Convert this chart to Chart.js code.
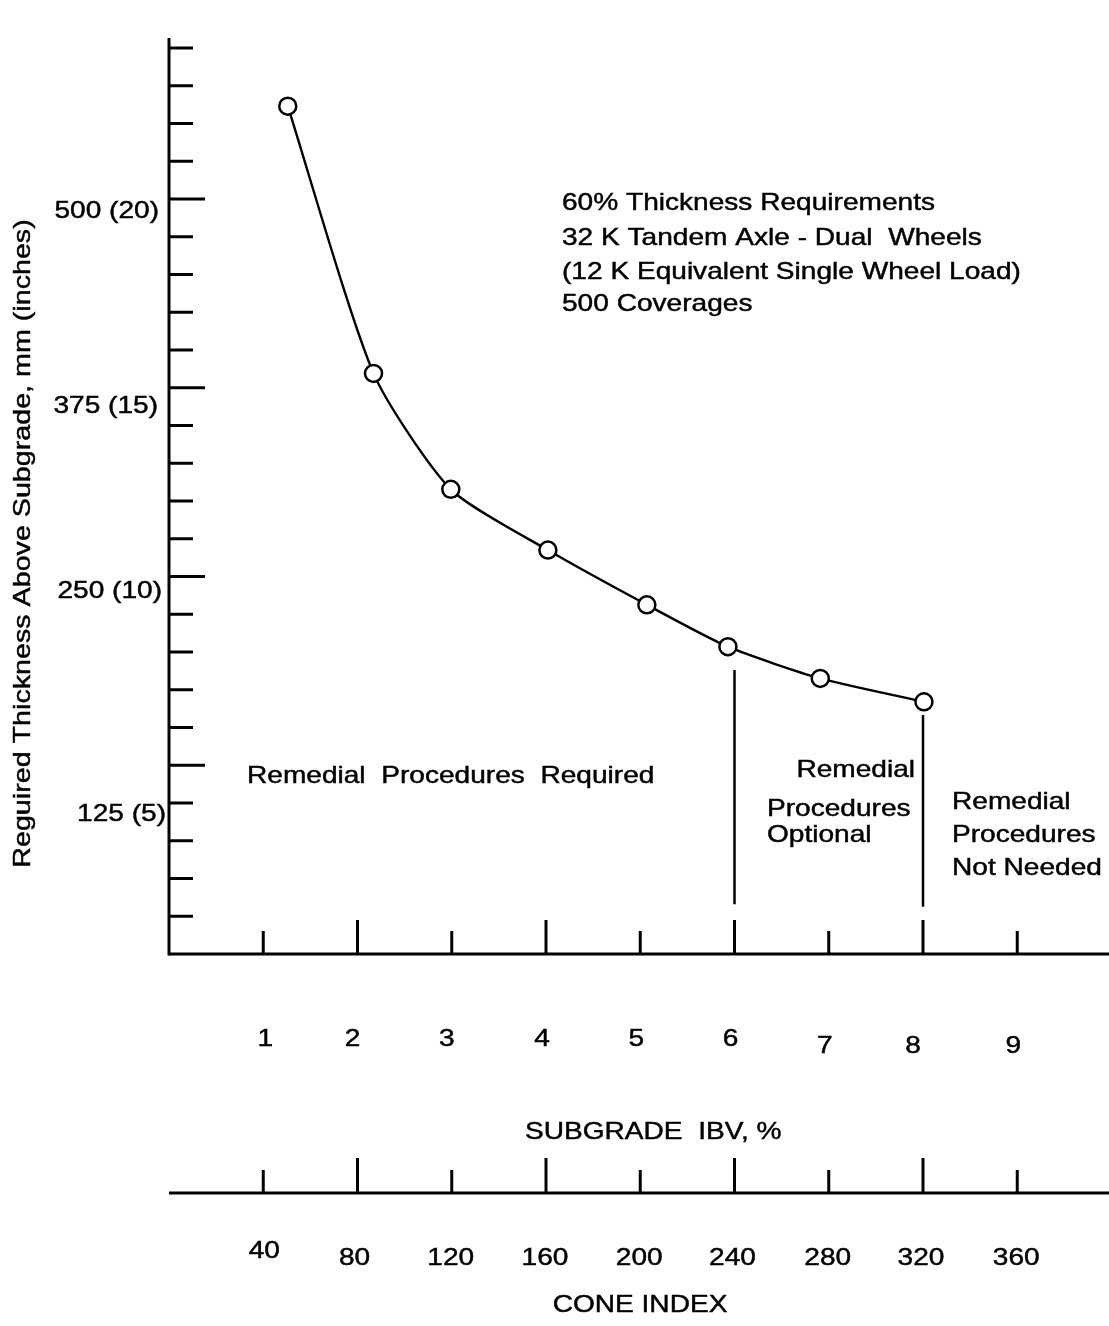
<!DOCTYPE html>
<html>
<head>
<meta charset="utf-8">
<script src="https://cdn.jsdelivr.net/npm/chart.js@4/dist/chart.umd.min.js"></script>
<style>
  html, body { margin: 0; padding: 0; background: #fff; }
  #wrap { width: 1109px; height: 1326px; }
</style>
</head>
<body>
<div id="wrap"><canvas id="c" width="1109" height="1326"></canvas></div>
<script>
// ---------- data ----------
const ibvValues = [1.26, 2.17, 2.99, 4.02, 5.07, 5.93, 6.91, 8.01];       // subgrade IBV, %
const thicknessIn = [22.46, 15.38, 12.31, 10.70, 9.25, 8.14, 7.30, 6.68];  // required thickness, inches
const ibvTicks = [1, 2, 3, 4, 5, 6, 7, 8, 9];
const ibvTickLabels = ['1', '2', '3', '4', '5', '6', '7', '8', '9'];
const coneTicks = [40, 80, 120, 160, 200, 240, 280, 320, 360];
const coneTickLabels = ['40', '80', '120', '160', '200', '240', '280', '320', '360'];
const thicknessTicks = [1,2,3,4,5,6,7,8,9,10,11,12,13,14,15,16,17,18,19,20,21,22,23,24];
const thicknessLabelValues = [20, 15, 10, 5];
const thicknessLabels = ['500 (20)', '375 (15)', '250 (10)', '125 (5)'];
const dividerIbv = [6, 8];
const dividerTop = [7.52, 6.33];
const dividerBottom = [1.32, 1.25];
const coneToIbv = 40; // cone index = 40 x IBV on this chart
const notes = ['60% Thickness Requirements', '32 K Tandem Axle - Dual  Wheels',
               '(12 K Equivalent Single Wheel Load)', '500 Coverages'];
const zoneRequired = ['Remedial  Procedures  Required'];
const zoneOptional = ['Remedial', 'Procedures', 'Optional'];
const zoneNotNeeded = ['Remedial', 'Procedures', 'Not Needed'];
const yTitle = 'Reguired Thickness Above Subgrade, mm (inches)';
const xTitle = 'SUBGRADE  IBV, %';
const coneTitle = 'CONE INDEX';

// ---------- drawing ----------
const FONT = '24px "Liberation Sans", Arial, sans-serif';
const SX = 1.17;
function txt(ctx, s, x, y, align) {
  ctx.save();
  ctx.translate(x, y);
  ctx.scale(SX, 1);
  ctx.font = FONT;
  ctx.fillStyle = '#000';
  ctx.strokeStyle = '#000';
  ctx.lineWidth = 0.45;
  ctx.textAlign = align || 'left';
  ctx.textBaseline = 'alphabetic';
  ctx.fillText(s, 0, 0);
  ctx.strokeText(s, 0, 0);
  ctx.restore();
}
function seg(ctx, x1, y1, x2, y2, w) {
  ctx.beginPath();
  ctx.lineWidth = w || 3;
  ctx.strokeStyle = '#000';
  ctx.moveTo(x1, y1); ctx.lineTo(x2, y2); ctx.stroke();
}

const curve = ibvValues.map((v, i) => ({ x: v, y: thicknessIn[i] }));
const dividers = dividerIbv.map((v, i) => ({
  data: [{ x: v, y: dividerTop[i] }, { x: v, y: dividerBottom[i] }],
  showLine: true, borderColor: '#000', borderWidth: 2.5, pointRadius: 0, order: 2
}));

const ylabDy = [19, 25, 21, 56];
const ylabRight = [159, 158, 162, 166];
const ibvDx = [2, -5, -5, -4, -4, -4, -4, -10, -4];
const ibvBase = [1046, 1046, 1046, 1046, 1046, 1046, 1053, 1053, 1053];
const coneDx = [1, -3, -1, -1, -1, -2, -1, -2, -1];
const coneBase = [1258, 1265, 1265, 1265, 1265, 1265, 1265, 1265, 1265];

const axesPlugin = {
  id: 'axesPlugin',
  beforeDraw(chart) {
    const ctx = chart.ctx;
    ctx.save();
    ctx.fillStyle = '#fff';
    ctx.fillRect(0, 0, chart.width, chart.height);
    ctx.restore();
  },
  afterDraw(chart) {
    const ctx = chart.ctx;
    const xs = chart.scales.x, ys = chart.scales.y, cs = chart.scales.x2;
    const a = chart.chartArea;
    ctx.save();
    ctx.lineCap = 'butt';
    // main axes
    seg(ctx, a.left, a.top, a.left, a.bottom + 1.5, 3);
    seg(ctx, a.left, a.bottom, a.right, a.bottom, 3);
    // thickness ticks
    thicknessTicks.forEach(v => {
      const y = ys.getPixelForValue(v);
      seg(ctx, a.left, y, a.left + (v % 5 === 0 ? 36 : 24), y, 3);
    });
    thicknessLabels.forEach((s, i) => {
      txt(ctx, s, ylabRight[i], ys.getPixelForValue(thicknessLabelValues[i]) + ylabDy[i], 'right');
    });
    // IBV ticks
    ibvTicks.forEach((v, i) => {
      const x = xs.getPixelForValue(v);
      seg(ctx, x, a.bottom, x, a.bottom - (v % 2 === 0 ? 34 : 23), 3);
      txt(ctx, ibvTickLabels[i], x + ibvDx[i], ibvBase[i], 'center');
    });
    txt(ctx, xTitle, 525, 1139, 'left');
    // cone index axis
    const cy = 1193;
    seg(ctx, a.left, cy, a.right, cy, 3);
    coneTicks.forEach((v, i) => {
      const x = cs.getPixelForValue(v);
      seg(ctx, x, cy, x, cy - ((v / coneToIbv) % 2 === 0 ? 35 : 23), 3);
      txt(ctx, coneTickLabels[i], x + coneDx[i], coneBase[i], 'center');
    });
    txt(ctx, coneTitle, 640, 1312, 'center');
    // y title
    ctx.save();
    ctx.translate(29.5, 543.5);
    ctx.rotate(-Math.PI / 2);
    ctx.scale(SX, 1);
    ctx.font = '24.5px "Liberation Sans", Arial, sans-serif';
    ctx.fillStyle = '#000';
    ctx.strokeStyle = '#000';
    ctx.lineWidth = 0.45;
    ctx.textAlign = 'center';
    ctx.fillText(yTitle, 0, 0);
    ctx.strokeText(yTitle, 0, 0);
    ctx.restore();
    // notes
    const nb = [210, 244.5, 278.5, 311];
    notes.forEach((s, i) => txt(ctx, s, 562, nb[i], 'left'));
    txt(ctx, zoneRequired[0], 247, 783, 'left');
    txt(ctx, zoneOptional[0], 915, 777, 'right');
    txt(ctx, zoneOptional[1], 767, 816, 'left');
    txt(ctx, zoneOptional[2], 767, 842, 'left');
    [809, 842, 875].forEach((b, i) => txt(ctx, zoneNotNeeded[i], 952, b, 'left'));
    ctx.restore();
  }
};

const xMax = (1109 - 169) / 94.25;
new Chart(document.getElementById('c'), {
  type: 'scatter',
  data: {
    datasets: [
      {
        data: curve, showLine: true, borderColor: '#000', borderWidth: 2.4,
        tension: 0.22,
        pointRadius: 8.5, pointBorderWidth: 2.5, pointBackgroundColor: '#fff',
        pointBorderColor: '#000', pointStyle: 'circle', order: 1, clip: false
      },
      ...dividers
    ]
  },
  options: {
    responsive: false, animation: false, devicePixelRatio: 1,
    layout: { autoPadding: false, padding: { left: 169, right: 0, top: 38, bottom: 372 } },
    plugins: { legend: { display: false }, tooltip: { enabled: false } },
    events: [],
    scales: {
      x: { type: 'linear', min: 0, max: xMax, display: false },
      x2: { type: 'linear', position: 'bottom', min: 0, max: xMax * coneToIbv, display: false },
      y: { type: 'linear', min: 0, max: (954 - 38) / 37.75, display: false }
    }
  },
  plugins: [axesPlugin]
});
</script>
</body>
</html>
